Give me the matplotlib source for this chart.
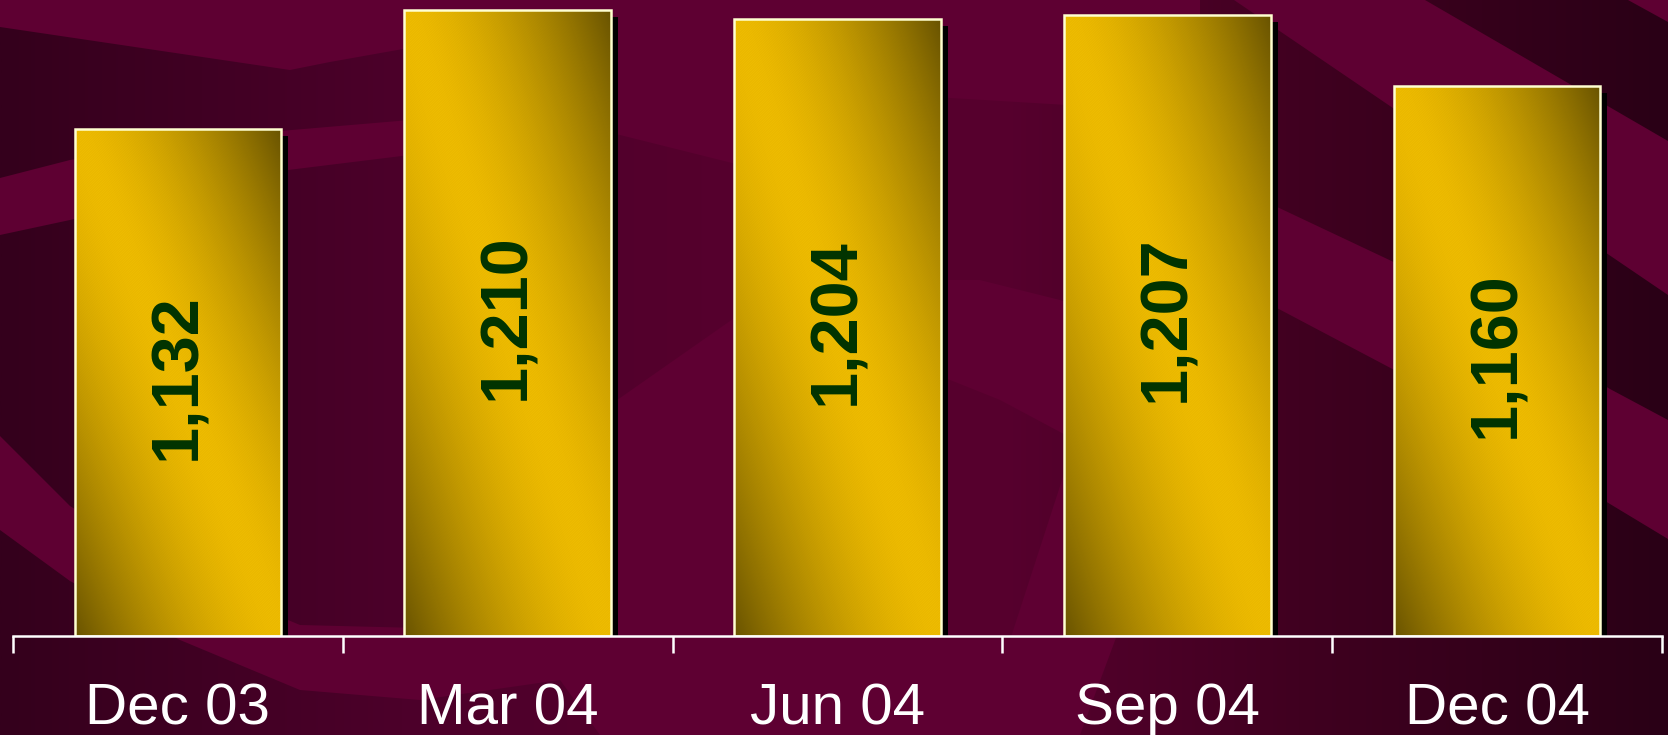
import numpy as np
import matplotlib
matplotlib.use("Agg")
import matplotlib.pyplot as plt
from matplotlib.patches import Rectangle, PathPatch
from matplotlib.path import Path
from matplotlib import transforms
from matplotlib import font_manager

plt.rcParams['font.family'] = ['Liberation Sans', 'DejaVu Sans']
plt.rcParams['hatch.linewidth'] = 0.6

# Quarterly figures
quarters = ["Dec 03", "Mar 04", "Jun 04", "Sep 04", "Dec 04"]
counts = [1132, 1210, 1204, 1207, 1160]

Y_MIN, Y_MAX = 800, 1216.5
W, H = 1668, 735

# bold face for the value labels: Arial-like if available
bold_family = 'Liberation Sans'
try:
    f = font_manager.findfont(font_manager.FontProperties(family='Liberation Sans', weight='bold'),
                              fallback_to_default=False)
    if 'bold' not in f.lower():
        bold_family = 'Roboto'
except Exception:
    bold_family = 'Roboto'

fig = plt.figure(figsize=(W / 100, H / 100), dpi=100)

# --- background (pixel coordinates, y down) ---
bg = fig.add_axes([0, 0, 1, 1], zorder=-1)
bg.set_facecolor('#5e0032')
bg.set_xlim(0, W)
bg.set_ylim(H, 0)
bg.set_xticks([])
bg.set_yticks([])
for sp in bg.spines.values():
    sp.set_visible(False)

dark_shapes = [
    [(0, 27), (290, 70), (330, 62), (420, 46), (520, 40), (520, 120), (410, 120),
     (280, 131), (70, 160), (0, 178)],
    [(0, 235), (70, 220), (280, 171), (410, 155), (560, 145), (580, 400),
     (560, 600), (420, 628), (300, 625), (180, 575), (70, 506), (0, 436)],
    [(0, 530), (70, 581), (180, 640), (300, 690), (420, 700), (560, 680),
     (600, 735), (0, 735)],
    [(560, 120), (760, 170), (760, 300), (560, 440)],
    [(900, 95), (1150, 110), (1150, 330), (1060, 300), (980, 280), (900, 280)],
    [(900, 360), (1000, 400), (1075, 440), (1010, 640), (900, 640)],
    [(1425, 0), (1628, 0), (1668, 22), (1668, 141)],
    [(1200, 0), (1234, 0), (1668, 295), (1668, 420), (1610, 389), (1400, 265),
     (1275, 206), (1200, 170)],
    [(1200, 267), (1275, 307), (1400, 373), (1610, 504), (1668, 539),
     (1668, 735), (1080, 735), (1130, 600)],
]
paths = [Path(np.vstack([s, s[:1]]), closed=True) for s in dark_shapes]
dark_path = PathPatch(Path.make_compound_path(*paths), facecolor='none',
                      edgecolor='none', transform=bg.transData)
bg.add_patch(dark_path)

gx = np.linspace(0, W, 400)
stops_x = [0, 400, 700, 1000, 1300, 1668]
stops_c = np.array([[0x34, 0x00, 0x1c], [0x4c, 0x00, 0x2a], [0x55, 0x00, 0x2d],
                    [0x57, 0x00, 0x2e], [0x40, 0x00, 0x20], [0x2a, 0x00, 0x16]]) / 255
grad = np.stack([np.interp(gx, stops_x, stops_c[:, k]) for k in range(3)], axis=-1)
im = bg.imshow(grad[np.newaxis, :, :], extent=(0, W, H, 0), aspect='auto',
               interpolation='bilinear', zorder=2)
im.set_clip_path(dark_path)
bg.set_xlim(0, W)
bg.set_ylim(H, 0)

# --- chart ---
ax = fig.add_axes([13 / W, (H - 636) / H, (1662 - 13) / W, 636 / H])
ax.patch.set_alpha(0)

bright = np.array([1.0, 0.79, 0.0])
dark = np.array([0.41, 0.33, 0.0])
bar_w = 0.627
shadow_tr = transforms.offset_copy(ax.transData, fig=fig, x=7, y=-7, units='dots')

uu, vv = np.meshgrid(np.linspace(0, 1, 120), np.linspace(0, 1, 300))
s = np.abs(uu + vv - 1) ** 1.6
fill = bright * (1 - s[..., None]) + dark * s[..., None]

for i, v in enumerate(counts):
    x0 = i - bar_w / 2
    ax.add_patch(Rectangle((x0, Y_MIN), bar_w, v - Y_MIN, facecolor='black',
                           edgecolor='none', transform=shadow_tr, zorder=1))
    frame = Rectangle((x0, Y_MIN), bar_w, v - Y_MIN, facecolor='none',
                      edgecolor='none', zorder=2)
    ax.add_patch(frame)
    g = ax.imshow(fill, extent=(x0, x0 + bar_w, Y_MIN, v), origin='lower',
                  aspect='auto', interpolation='bilinear', zorder=2)
    g.set_clip_path(frame)
    ax.add_patch(Rectangle((x0, Y_MIN), bar_w, v - Y_MIN, facecolor='none',
                           edgecolor=(0.45, 0.33, 0.0, 0.18), hatch='/' * 20,
                           lw=0, zorder=2.5))
    ax.add_patch(Rectangle((x0, Y_MIN), bar_w, v - Y_MIN, facecolor='none',
                           edgecolor='#ffffd0', lw=1.8, zorder=3))
    ax.text(i, (Y_MIN + v) / 2 + 4, f"{v:,}", rotation=90, ha='center', va='center',
            fontsize=48, fontweight='bold', color='#003300', zorder=4,
            family=[bold_family, 'DejaVu Sans'])

ax.set_xlim(-0.5, len(quarters) - 0.5)
ax.set_ylim(Y_MIN, Y_MAX)

for side in ['top', 'left', 'right']:
    ax.spines[side].set_visible(False)
ax.spines['bottom'].set_color('white')
ax.spines['bottom'].set_linewidth(1.8)
ax.spines['bottom'].set_zorder(5)
ax.set_yticks([])

ax.set_xticks(range(len(quarters)), quarters)
ax.set_xticks(np.arange(-0.5, len(quarters)), minor=True)
ax.tick_params(axis='x', which='major', length=0, pad=63.4, labelsize=42,
               labelcolor='white')
ax.tick_params(axis='x', which='minor', length=12, width=1.8, color='white',
               direction='out')
for lbl in ax.get_xticklabels():
    lbl.set_verticalalignment('baseline')

fig.savefig('out.png', dpi=100)
